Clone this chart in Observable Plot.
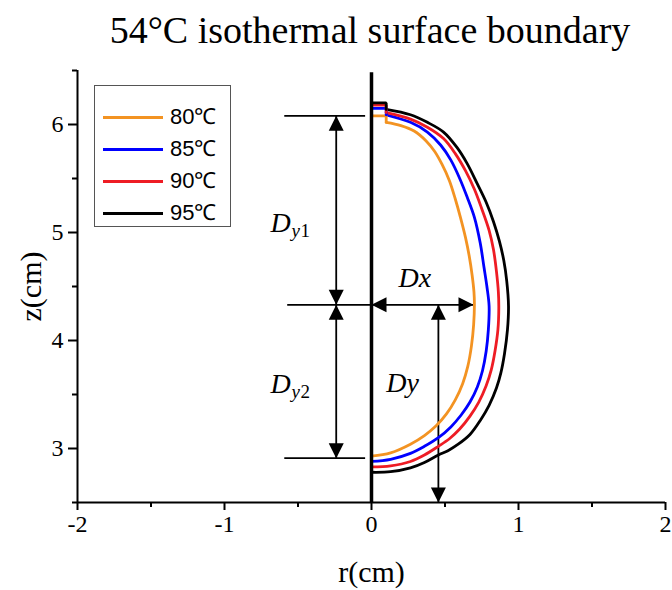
<!DOCTYPE html>
<html><head><meta charset="utf-8">
<script src="https://cdn.jsdelivr.net/npm/d3@7"></script>
<script src="https://cdn.jsdelivr.net/npm/@observablehq/plot@0.6"></script>
<style>
body{margin:0;background:#fff;}
#wrap{position:relative;width:672px;height:590px;overflow:hidden;background:#fff;}
#title{position:absolute;left:0;top:11px;width:672px;padding-left:68px;box-sizing:border-box;text-align:center;font:38px/38px "Liberation Serif",serif;color:#000;white-space:nowrap;}
#chart{position:absolute;left:0;top:60px;}
#legend{position:absolute;left:94px;top:85px;width:137px;height:142px;border:1px solid #555;box-sizing:border-box;background:#fff;}
.lrow{position:absolute;left:8px;height:0;}
.lline{position:absolute;left:0;width:60px;height:3px;top:-1.5px;}
.ltext{position:absolute;left:67px;top:-14px;font:22px/28px "Liberation Sans",Arial,sans-serif;color:#000;white-space:nowrap;}
</style></head><body>
<div id="wrap"><div id="title">54°C isothermal surface boundary</div><div id="chart"></div><div id="legend"></div></div>
<script>
// Series
const series = ["80℃", "85℃", "90℃", "95℃"];
const colors = ["#f39322", "#0000ff", "#ee1c24", "#000000"];

// Boundary curves: [r (cm), z (cm)], top to bottom
const curve80 = [[0,6.08],[0.10,6.08],[0.10,6.02],[0.20,5.99],[0.29,5.94],[0.37,5.85],[0.43,5.75],[0.48,5.63],[0.53,5.48],[0.57,5.31],[0.605,5.14],[0.64,4.95],[0.665,4.78],[0.685,4.60],[0.697,4.45],[0.70,4.33],[0.695,4.15],[0.68,3.95],[0.655,3.76],[0.62,3.60],[0.57,3.45],[0.51,3.32],[0.44,3.21],[0.36,3.12],[0.265,3.04],[0.13,2.96],[0,2.93]];
const curve85 = [[0,6.15],[0.10,6.15],[0.10,6.09],[0.265,6.02],[0.38,5.93],[0.47,5.81],[0.54,5.67],[0.60,5.50],[0.65,5.33],[0.70,5.14],[0.74,4.90],[0.765,4.68],[0.785,4.50],[0.80,4.32],[0.795,4.10],[0.78,3.90],[0.755,3.72],[0.72,3.57],[0.67,3.43],[0.61,3.31],[0.54,3.20],[0.455,3.10],[0.36,3.02],[0.265,2.955],[0.13,2.90],[0,2.88]];
const curve90 = [[0,6.18],[0.10,6.18],[0.10,6.11],[0.265,6.05],[0.38,5.975],[0.49,5.87],[0.57,5.73],[0.64,5.57],[0.70,5.40],[0.75,5.22],[0.80,5.02],[0.83,4.84],[0.85,4.64],[0.863,4.45],[0.866,4.30],[0.86,4.10],[0.84,3.90],[0.815,3.73],[0.78,3.58],[0.73,3.43],[0.67,3.30],[0.60,3.18],[0.53,3.09],[0.455,3.02],[0.36,2.94],[0.265,2.88],[0.13,2.84],[0,2.83]];
const curve95 = [[0,6.20],[0.10,6.20],[0.10,6.14],[0.265,6.09],[0.38,6.02],[0.49,5.93],[0.58,5.79],[0.65,5.64],[0.72,5.45],[0.78,5.28],[0.83,5.10],[0.87,4.92],[0.90,4.74],[0.92,4.55],[0.932,4.32],[0.925,4.10],[0.905,3.88],[0.88,3.70],[0.85,3.56],[0.80,3.40],[0.74,3.26],[0.67,3.13],[0.59,3.04],[0.52,2.98],[0.455,2.94],[0.36,2.87],[0.265,2.82],[0.13,2.785],[0,2.78]];
const curves = [curve80, curve85, curve90, curve95];

// Axis ticks
const xMajor = [-2, -1, 0, 1, 2];
const xMinor = [-1.5, -0.5, 0.5, 1.5];
const yMajor = [3, 4, 5, 6];
const yMinor = [2.5, 3.5, 4.5, 5.5, 6.5];
const xDomain = [-2, 2];
const yDomain = [2.5, 6.5];
const axisTitles = {x: "r(cm)", y: "z(cm)"};

// Annotation geometry (data units)
const centerLine = [{r: 0, z1: 2.5, z2: 6.48}];
const guides = [
  {z: 6.08, r1: -0.59, r2: -0.04},
  {z: 4.33, r1: -0.57, r2: 0},
  {z: 2.91, r1: -0.59, r2: -0.04}
];
const vArrows = [
  {r: -0.24, z1: 6.08, z2: 4.33},
  {r: -0.24, z1: 4.33, z2: 2.91},
  {r: 0.455, z1: 4.33, z2: 2.5}
];
const hArrows = [{z: 4.33, r1: 0, r2: 0.694}];
const mainLabels = [
  {r: -0.687, z: 5.09, t: "D"},
  {r: -0.687, z: 3.60, t: "D"},
  {r: 0.184, z: 4.58, t: "Dx"},
  {r: 0.10, z: 3.61, t: "Dy"}
];
const subLabels = [
  {r: -0.687, z: 5.09, t: "y", n: "1"},
  {r: -0.687, z: 3.60, t: "y", n: "2"}
];

// Build rows
const capRows = [], arcRows = [];
curves.forEach((c, i) => {
  c.forEach((p, j) => {
    const row = {series: series[i], r: p[0], z: p[1]};
    if (j <= 2) capRows.push(row);
    if (j >= 2) arcRows.push(row);
  });
});

const head = (kind) => ({
  draw(ctx) {
    const L = 15, W = 7.5;
    ctx.moveTo(0, 0);
    if (kind === "up") { ctx.lineTo(-W, L); ctx.lineTo(W, L); }
    if (kind === "down") { ctx.lineTo(-W, -L); ctx.lineTo(W, -L); }
    if (kind === "left") { ctx.lineTo(L, -W); ctx.lineTo(L, W); }
    if (kind === "right") { ctx.lineTo(-L, -W); ctx.lineTo(-L, W); }
    ctx.closePath();
  }
});

const serif = "'Liberation Serif','Times New Roman',serif";
const chart = Plot.plot({
  width: 672, height: 530,
  marginLeft: 77, marginRight: 7, marginTop: 10, marginBottom: 88,
  style: {fontFamily: serif, fontSize: "24px", color: "#000", background: "#fff", overflow: "visible"},
  x: {domain: xDomain, label: null},
  y: {domain: yDomain, label: null},
  color: {domain: series, range: colors},
  marks: [
    Plot.axisX(xMinor, {tickSize: 5, strokeWidth: 2, tickFormat: () => "", label: null}),
    Plot.axisX(xMajor, {tickSize: 8, strokeWidth: 2, tickPadding: 4, tickFormat: d => d < 0 ? "-" + Math.abs(d) : String(d), label: null}),
    Plot.axisY(yMinor, {tickSize: 5, strokeWidth: 2, tickFormat: () => "", label: null}),
    Plot.axisY(yMajor, {tickSize: 9, strokeWidth: 2, tickPadding: 5, tickFormat: d => String(d), label: null}),
    Plot.ruleX([xDomain[0]], {y1: yDomain[0], y2: yDomain[1], strokeWidth: 2}),
    Plot.ruleY([yDomain[0]], {x1: xDomain[0], x2: xDomain[1], strokeWidth: 2}),
    Plot.text([axisTitles.y], {text: d => d, x: xDomain[0], y: (yDomain[0] + yDomain[1]) / 2, dx: -46, rotate: -90, fontSize: 30}),
    Plot.text([axisTitles.x], {text: d => d, x: (xDomain[0] + xDomain[1]) / 2, y: yDomain[0], dy: 70, fontSize: 30}),
    // guides and arrows
    Plot.ruleY(guides, {y: "z", x1: "r1", x2: "r2", strokeWidth: 1.8}),
    Plot.ruleX(vArrows, {x: "r", y1: "z1", y2: "z2", strokeWidth: 1.8}),
    Plot.ruleY(hArrows, {y: "z", x1: "r1", x2: "r2", strokeWidth: 1.8}),
    Plot.dot(vArrows, {x: "r", y: "z1", symbol: head("up"), fill: "black", stroke: null}),
    Plot.dot(vArrows, {x: "r", y: "z2", symbol: head("down"), fill: "black", stroke: null}),
    Plot.dot(hArrows, {x: "r1", y: "z", symbol: head("left"), fill: "black", stroke: null}),
    Plot.dot(hArrows, {x: "r2", y: "z", symbol: head("right"), fill: "black", stroke: null}),
    // curves
    Plot.line(arcRows, {x: "r", y: "z", z: "series", stroke: "series", strokeWidth: 2.8, curve: "catmull-rom"}),
    Plot.line(capRows, {x: "r", y: "z", z: "series", stroke: "series", strokeWidth: 2.8, curve: "linear", strokeLinejoin: "miter"}),
    // center thick line
    Plot.ruleX(centerLine, {x: "r", y1: "z1", y2: "z2", strokeWidth: 3.5}),
    // labels
    Plot.text(mainLabels, {x: "r", y: "z", text: "t", textAnchor: "start", fontStyle: "italic", fontSize: 28}),
    Plot.text(subLabels, {x: "r", y: "z", text: "t", textAnchor: "start", fontStyle: "italic", fontSize: 19, dx: 21, dy: 8}),
    Plot.text(subLabels, {x: "r", y: "z", text: "n", textAnchor: "start", fontSize: 19, dx: 30, dy: 8})
  ]
});
document.getElementById("chart").appendChild(chart);
// enlarge axis tick labels
d3.select(chart).selectAll('g[aria-label$="tick label"]').attr("font-size", 24).attr("font-family", serif)
  .selectAll("text").attr("font-size", null);

// Legend
const leg = document.getElementById("legend");
series.forEach((s, i) => {
  const row = document.createElement("div");
  row.className = "lrow";
  row.style.top = (31 + 32 * i) + "px";
  const ln = document.createElement("div");
  ln.className = "lline";
  ln.style.background = colors[i];
  const tx = document.createElement("div");
  tx.className = "ltext";
  tx.textContent = s;
  row.appendChild(ln); row.appendChild(tx);
  leg.appendChild(row);
});
</script>
</body></html>
